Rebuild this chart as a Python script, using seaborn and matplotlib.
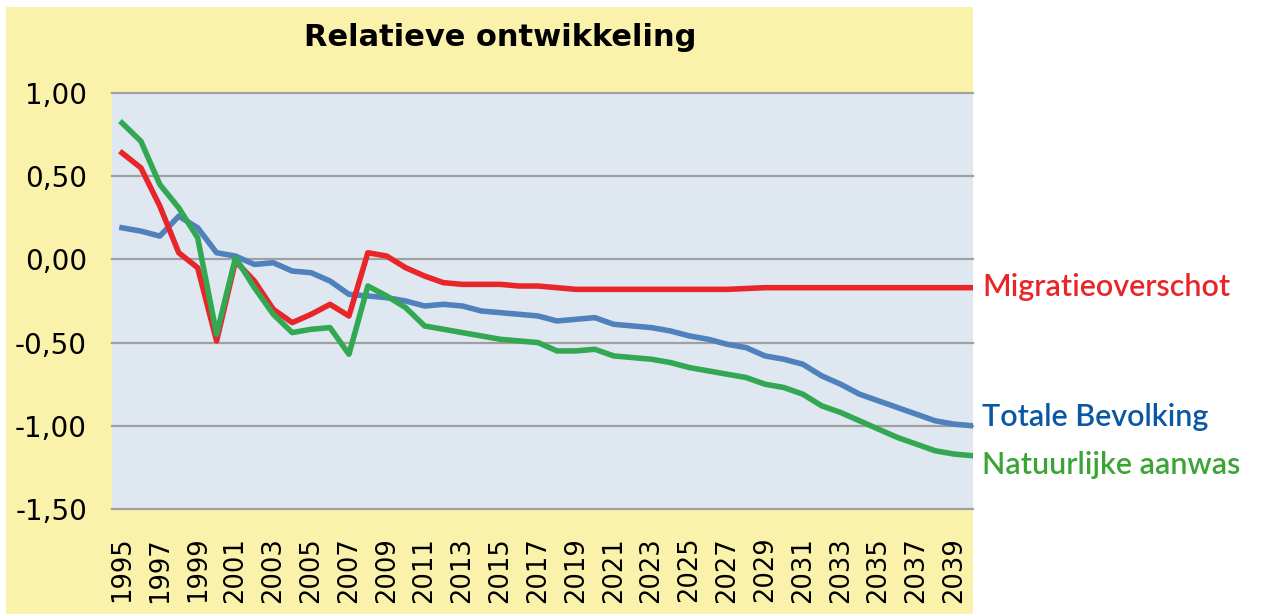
import numpy as np
import pandas as pd
import matplotlib
matplotlib.use("Agg")
import matplotlib.pyplot as plt
from matplotlib.patches import Rectangle
import seaborn as sns

years = list(range(1995, 2041))

totale_bevolking = [0.19, 0.17, 0.14, 0.26, 0.19, 0.04, 0.02, -0.03, -0.02, -0.07,
                    -0.08, -0.13, -0.21, -0.22, -0.23, -0.25, -0.28, -0.27, -0.28, -0.31,
                    -0.32, -0.33, -0.34, -0.37, -0.36, -0.35, -0.39, -0.40, -0.41, -0.43,
                    -0.46, -0.48, -0.51, -0.53, -0.58, -0.60, -0.63, -0.70, -0.75, -0.81,
                    -0.85, -0.89, -0.93, -0.97, -0.99, -1.00]

migratieoverschot = [0.64, 0.55, 0.32, 0.04, -0.05, -0.49, -0.01, -0.13, -0.30, -0.38,
                     -0.33, -0.27, -0.34, 0.04, 0.02, -0.05, -0.10, -0.14, -0.15, -0.15,
                     -0.15, -0.16, -0.16, -0.17, -0.18, -0.18, -0.18, -0.18, -0.18, -0.18,
                     -0.18, -0.18, -0.18, -0.175, -0.17, -0.17, -0.17, -0.17, -0.17, -0.17,
                     -0.17, -0.17, -0.17, -0.17, -0.17, -0.17]

natuurlijke_aanwas = [0.82, 0.71, 0.45, 0.31, 0.13, -0.45, 0.01, -0.17, -0.33, -0.44,
                      -0.42, -0.41, -0.57, -0.16, -0.22, -0.29, -0.40, -0.42, -0.44, -0.46,
                      -0.48, -0.49, -0.50, -0.55, -0.55, -0.54, -0.58, -0.59, -0.60, -0.62,
                      -0.65, -0.67, -0.69, -0.71, -0.75, -0.77, -0.81, -0.88, -0.92, -0.97,
                      -1.02, -1.07, -1.11, -1.15, -1.17, -1.18]

series_names = ["Totale Bevolking", "Migratieoverschot", "Natuurlijke aanwas"]
y_ticks = [1.0, 0.5, 0.0, -0.5, -1.0, -1.5]
y_tick_labels = ["1,00", "0,50", "0,00", "-0,50", "-1,00", "-1,50"]
x_tick_years = list(range(1995, 2040, 2))

line_colors = {"Totale Bevolking": "#4F81BD",
               "Migratieoverschot": "#E8262A",
               "Natuurlijke aanwas": "#33A852"}
label_colors = {"Totale Bevolking": "#0A57A4",
                "Migratieoverschot": "#E8262A",
                "Natuurlijke aanwas": "#3AA535"}

df = pd.DataFrame({
    "jaar": years * 3,
    "waarde": totale_bevolking + migratieoverschot + natuurlijke_aanwas,
    "reeks": sum([[n] * len(years) for n in series_names], []),
})

W, H = 1268, 614
fig = plt.figure(figsize=(W / 100, H / 100), dpi=100, facecolor="white")

# yellow chart area background (drawn behind everything)
bg = Rectangle((6 / W, 0), (973 - 6) / W, 1 - 7 / H,
               transform=fig.transFigure, facecolor="#FAF2AA",
               edgecolor="none", zorder=-10)
fig.add_artist(bg)

ax = fig.add_axes([112 / W, 1 - 509 / H, (973 - 112) / W, (509 - 93) / H])
ax.set_facecolor("#DFE7F1")

sns.lineplot(data=df, x="jaar", y="waarde", hue="reeks", hue_order=series_names,
             palette=line_colors, linewidth=4.0, legend=False, ax=ax)

ax.set_xlim(1994.47, 2040)
ax.set_ylim(-1.5, 1.0)
ax.set_yticks(y_ticks)
ax.set_yticklabels(y_tick_labels, fontsize=20, fontfamily="DejaVu Sans")
ax.set_xticks(x_tick_years)
ax.set_xticklabels([str(y) for y in x_tick_years], rotation=90, fontsize=18.5,
                   fontfamily="DejaVu Sans")
ax.tick_params(axis="both", length=0)
ax.tick_params(axis="y", pad=18)
ax.tick_params(axis="x", pad=20)
ax.set_xlabel("")
ax.set_ylabel("")
for s in ax.spines.values():
    s.set_visible(False)
ax.grid(axis="y", color="#A0A0A0", linewidth=1.6)
ax.grid(axis="x", visible=False)
ax.set_axisbelow(True)
for t in ax.get_ygridlines():
    t.set_clip_on(False)

fig.text(500 / W, 1 - 38 / H, "Relatieve ontwikkeling", ha="center", va="center",
         fontsize=22, fontweight="bold", fontfamily="DejaVu Sans")

label_pos = {"Migratieoverschot": 287, "Totale Bevolking": 417, "Natuurlijke aanwas": 465}
for name in series_names:
    fig.text(982 / W, 1 - label_pos[name] / H, name, ha="left", va="center",
             fontsize=22, color=label_colors[name], fontfamily="Lato",
             fontweight="semibold")

fig.savefig("out.png", dpi=100, facecolor="white")
